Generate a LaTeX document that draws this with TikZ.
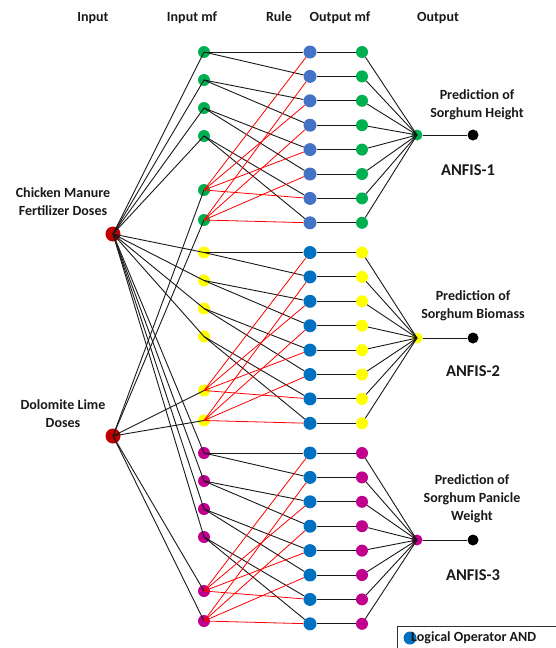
\documentclass[tikz,border=0pt]{standalone}
\usepackage{fontspec}
\setmainfont{Carlito}
\definecolor{mfgreen}{HTML}{00B050}
\definecolor{mfyellow}{HTML}{FFFF00}
\definecolor{mfmagenta}{HTML}{C0008C}
\definecolor{rulelight}{HTML}{4472C4}
\definecolor{ruleblue}{HTML}{0070C0}
\definecolor{inred}{HTML}{C00000}
\tikzset{
  mfdot/.style={circle, fill=#1, inner sep=0pt, minimum size=12pt},
  ruledot/.style={circle, fill=#1, inner sep=0pt, minimum size=13pt},
  indot/.style={circle, fill=inred, inner sep=0pt, minimum size=15pt},
  enddot/.style={circle, fill=black, inner sep=0pt, minimum size=11pt},
  wire/.style={line width=0.9pt, black!90},
  redwire/.style={line width=0.8pt, red},
  lbl/.style={font=\bfseries\fontsize{14}{18}\selectfont, align=center, text=black!90},
  anfis/.style={font=\bfseries\fontsize{16.5}{20}\selectfont, text=black!90}
}
\begin{document}
\begin{tikzpicture}[x=1pt, y=-1pt]
  \useasboundingbox (0,0) rectangle (555,648);

  % column titles
  \node[lbl, anchor=base] (hin)    at (93,21)  {Input};
  \node[lbl, anchor=base] (hinmf)  at (192,21) {Input mf};
  \node[lbl, anchor=base] (hrule)  at (279,21) {Rule};
  \node[lbl, anchor=base] (houtmf) at (340,21) {Output mf};
  \node[lbl, anchor=base] (hout)   at (438,21) {Output};

  % inputs
  \node[indot] (in1) at (113,234) {};
  \node[indot] (in2) at (113,436) {};
  \node[lbl] (chicken)  at (63,202) {Chicken Manure\\Fertilizer Doses};
  \node[lbl] (dolomite) at (63,414) {Dolomite Lime\\Doses};

  % one ANFIS block per output
  \foreach \b/\base/\mc/\rc/\oy in {1/52/mfgreen/rulelight/135,
                                    2/252.5/mfyellow/ruleblue/338,
                                    3/453/mfmagenta/ruleblue/540}{
    \foreach \k/\dy in {1/0,2/28,3/56,4/84,5/138,6/168}{
      \node[mfdot=\mc] (m\b-\k) at (204,\base+\dy) {};
    }
    \foreach \r in {1,...,8}{
      \node[ruledot=\rc] (r\b-\r) at (310,\base+24.4*\r-24.4) {};
      \node[mfdot=\mc] (o\b-\r) at (362,\base+24.4*\r-24.4) {};
    }
    \node[mfdot=\mc, minimum size=11pt] (y\b) at (417,\oy) {};
    \node[enddot] (e\b) at (473,\oy) {};

    \foreach \k in {1,...,4}{
      \draw[wire] (in1.center) -- (m\b-\k.center);
    }
    \foreach \k in {5,6}{
      \draw[wire] (in2.center) -- (m\b-\k.center);
    }
    \foreach \k/\ra/\rb in {1/1/2,2/3/4,3/5/6,4/7/8}{
      \draw[wire] (m\b-\k.center) -- (r\b-\ra);
      \draw[wire] (m\b-\k.center) -- (r\b-\rb);
    }
    \foreach \r in {1,3,5,7}{
      \draw[redwire] (m\b-5.center) -- (r\b-\r);
    }
    \foreach \r in {2,4,6,8}{
      \draw[redwire] (m\b-6.center) -- (r\b-\r);
    }
    \foreach \r in {1,...,8}{
      \draw[wire] (r\b-\r) -- (o\b-\r);
      \draw[wire] (o\b-\r) -- (y\b.center);
    }
    \draw[wire] (y\b) -- (e\b);
  }

  % outputs
  \node[lbl] (pred1) at (477,105)   {Prediction of\\Sorghum Height};
  \node[lbl] (pred2) at (473,306)   {Prediction of\\Sorghum Biomass};
  \node[lbl] (pred3) at (472,498.5) {Prediction of\\Sorghum Panicle\\Weight};
  \node[anfis] (anfis1) at (468,170) {ANFIS-1};
  \node[anfis] (anfis2) at (473,371) {ANFIS-2};
  \node[anfis] (anfis3) at (473,575) {ANFIS-3};

  % legend
  \draw[line width=0.7pt, black!80] (397,626) rectangle (562,656);
  \node[ruledot=ruleblue] (andop) at (410,638) {};
  \node[lbl, anchor=west, inner sep=0pt] (andtxt) at (411,638) {Logical Operator AND};
\end{tikzpicture}
\end{document}
